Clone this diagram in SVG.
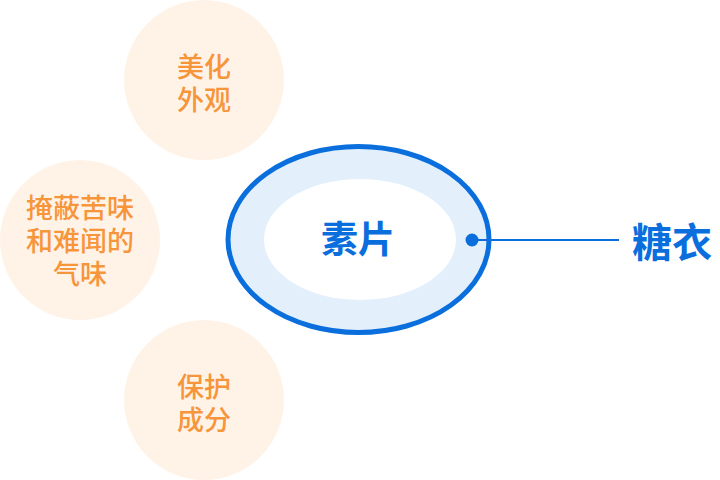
<svg xmlns="http://www.w3.org/2000/svg" width="720" height="480" viewBox="0 0 720 480">
<style>
.bub{fill:#FFF3E8}
.ot{fill:#F7953A;font-family:"Noto Sans CJK SC","Noto Sans",sans-serif;font-size:27px;font-weight:500;text-anchor:middle}
.bt{fill:#0A6FDD;font-family:"Noto Sans CJK SC","Noto Sans",sans-serif;text-anchor:middle;font-weight:600}
</style>
<rect width="720" height="480" fill="#FFFFFF"/>
<g id="node-beautify">
<circle class="bub" cx="204" cy="80" r="80"/>
<text class="ot" x="204" y="77">美化<tspan x="204" dy="33">外观</tspan></text>
</g>
<g id="node-mask">
<circle class="bub" cx="80" cy="240" r="80"/>
<text class="ot" x="80" y="218">掩蔽苦味<tspan x="80" dy="33">和难闻的</tspan><tspan x="80" dy="33">气味</tspan></text>
</g>
<g id="node-protect">
<circle class="bub" cx="204" cy="400" r="80"/>
<text class="ot" x="204" y="397">保护<tspan x="204" dy="33">成分</tspan></text>
</g>
<g id="node-tablet">
<ellipse cx="358.5" cy="239.5" rx="130.5" ry="93" fill="#E3F0FC" stroke="#0A6FDD" stroke-width="5"/>
<ellipse cx="360" cy="239.5" rx="96" ry="60.5" fill="#FFFFFF"/>
<text class="bt" x="358" y="253" font-size="37">素片</text>
</g>
<g id="connectors">
<line x1="472" y1="240" x2="619" y2="240" stroke="#0A6FDD" stroke-width="2"/>
<circle cx="472" cy="240" r="6.5" fill="#0A6FDD"/>
</g>
<g id="node-coating">
<text class="bt" x="672" y="257" font-size="40">糖衣</text>
</g>
</svg>
